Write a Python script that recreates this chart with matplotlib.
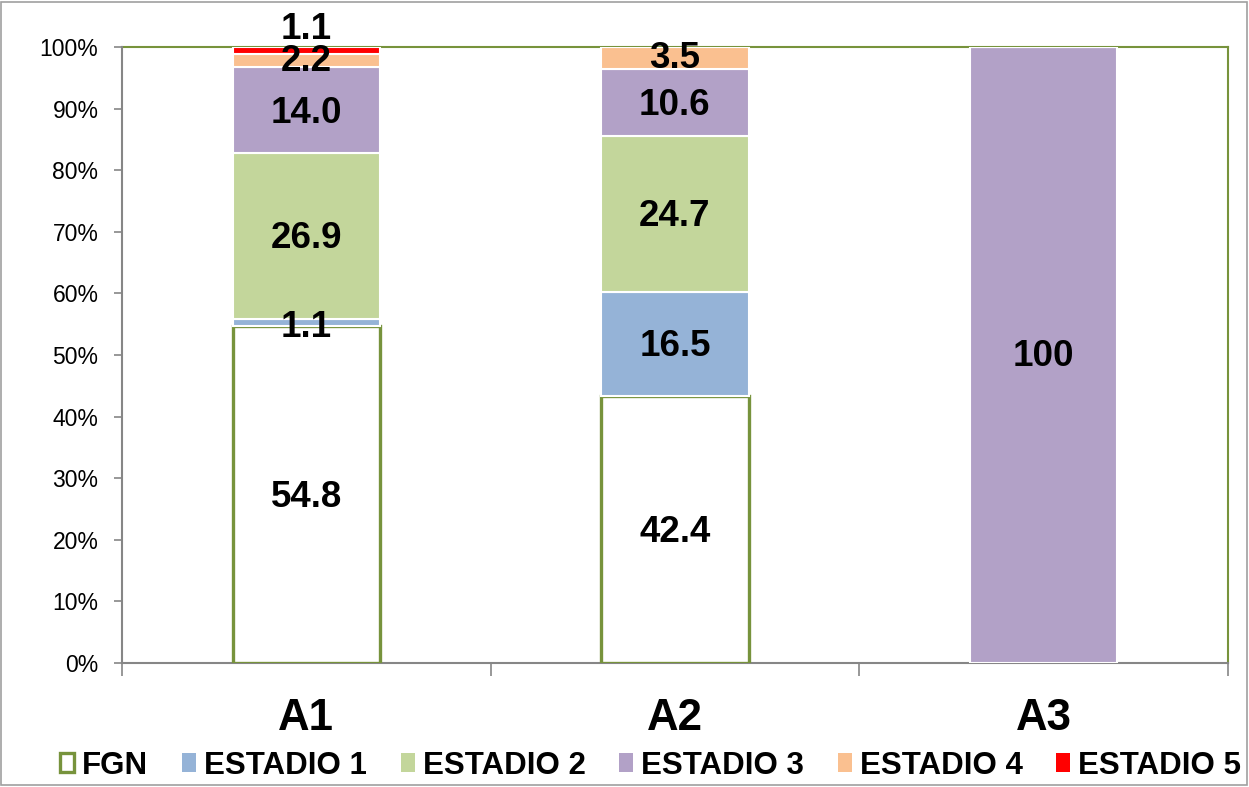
import matplotlib
matplotlib.use("Agg")
import matplotlib.pyplot as plt
from matplotlib.patches import Rectangle, Patch
import numpy as np

plt.rcParams['font.family'] = ['Liberation Sans', 'DejaVu Sans']

categories = ["A1", "A2", "A3"]
series_names = ["FGN", "ESTADIO 1", "ESTADIO 2", "ESTADIO 3", "ESTADIO 4", "ESTADIO 5"]
fgn = [54.8, 42.4, 0]
estadio1 = [1.1, 16.5, 0]
estadio2 = [26.9, 24.7, 0]
estadio3 = [14.0, 10.6, 100]
estadio4 = [2.2, 3.5, 0]
estadio5 = [1.1, 0, 0]
label_texts = [["54.8", "42.4", ""], ["1.1", "16.5", ""], ["26.9", "24.7", ""],
               ["14.0", "10.6", "100"], ["2.2", "3.5", ""], ["1.1", "", ""]]
yticks = [0, 10, 20, 30, 40, 50, 60, 70, 80, 90, 100]

series = [fgn, estadio1, estadio2, estadio3, estadio4, estadio5]
colors = ["white", "#95B3D7", "#C3D69B", "#B2A1C7", "#FAC090", "#FF0000"]
green = "#77933C"
grey = "#868686"
# label vertical offsets in points (style only)
offsets = [[-2, -2, 0], [-4, -2, 0], [-2, -2, 0], [-2, -2, -1], [-1, 0, 0], [15, 0, 0]]

fig = plt.figure(figsize=(12.49, 7.87), dpi=100)
ax = fig.add_axes([0.0977, 0.1576, 0.8853, 0.7827])

data = np.array(series, dtype=float)
totals = data.sum(axis=0)
pct = data / totals * 100
x = np.arange(len(categories))
width = 0.4
bottom = np.zeros(len(categories))
for i, name in enumerate(series_names):
    if i == 0:
        ax.bar(x, pct[i], width, bottom=bottom, color="white", edgecolor=green,
               linewidth=2.4, zorder=3, label=name)
    else:
        ax.bar(x, pct[i], width, bottom=bottom, color=colors[i], edgecolor="white",
               linewidth=1.5, zorder=3, label=name)
    for j in range(len(categories)):
        if label_texts[i][j]:
            ax.annotate(label_texts[i][j], (x[j], bottom[j] + pct[i][j] / 2),
                        xytext=(0, offsets[i][j]), textcoords="offset points",
                        ha="center", va="center", fontsize=26.5, fontweight="bold",
                        color="black", zorder=5)
    bottom += pct[i]

ax.set_xlim(-0.5, len(categories) - 0.5)
ax.set_ylim(0, 100)
ax.set_yticks(yticks)
ax.set_yticklabels([f"{t}%" for t in yticks], fontsize=16.5)
ax.tick_params(axis="y", length=6, color=grey, width=1.2, pad=11)
ax.set_xticks(x)
ax.set_xticklabels(categories, fontsize=31.5, fontweight="bold")
ax.tick_params(axis="x", which="major", length=0, pad=25)
ax.set_xticks(np.arange(len(categories) + 1) - 0.5, minor=True)
ax.tick_params(axis="x", which="minor", length=9, color=grey, width=1.2)

for s in ["left", "bottom"]:
    ax.spines[s].set_color(grey)
    ax.spines[s].set_linewidth(1.5)
for s in ["top", "right"]:
    ax.spines[s].set_color(green)
    ax.spines[s].set_linewidth(1.5)
    ax.spines[s].set_zorder(1)

handles = [Patch(facecolor="white", edgecolor=green, linewidth=2.4)] + \
          [Patch(facecolor=c, edgecolor="none") for c in colors[1:]]
leg = fig.legend(handles, series_names, loc="center", bbox_to_anchor=(0.521, 0.027),
                 ncol=6, frameon=False, prop={"weight": "bold", "size": 22.5},
                 handlelength=0.45, handleheight=0.55, handletextpad=0.25,
                 columnspacing=1.08)

fig.patches.append(Rectangle((0.001, 0.002), 0.997, 0.996, transform=fig.transFigure,
                             fill=False, edgecolor="#A0A0A0", linewidth=1.2))

fig.savefig("out.png", dpi=100)
